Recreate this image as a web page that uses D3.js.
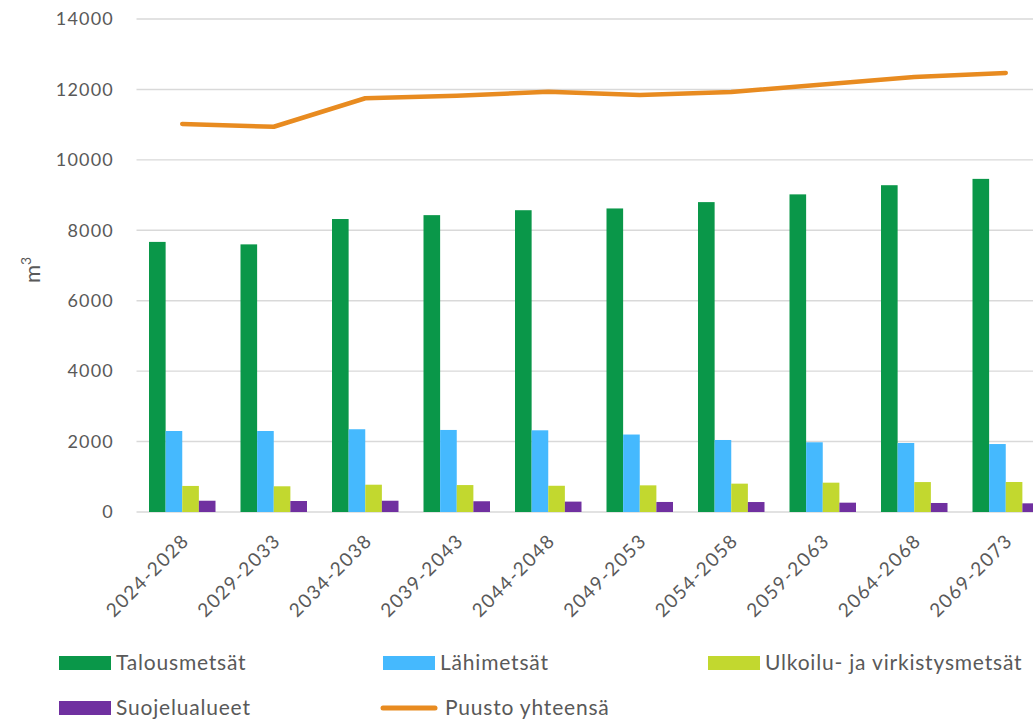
<!DOCTYPE html>
<html>
<head>
<meta charset="utf-8">
<script src="https://cdn.jsdelivr.net/npm/d3@7"></script>
<style>
  html, body { margin: 0; padding: 0; background: #fff; overflow: hidden; }
  svg { display: block; font-family: Lato, "Open Sans", sans-serif; }
</style>
</head>
<body>
<svg id="chart" width="1033" height="719"></svg>
<script>
const categories = ["2024-2028","2029-2033","2034-2038","2039-2043","2044-2048","2049-2053","2054-2058","2059-2063","2064-2068","2069-2073"];
const talousmetsat = [7670, 7600, 8320, 8430, 8570, 8620, 8800, 9020, 9280, 9460];
const lahimetsat   = [2300, 2300, 2350, 2330, 2320, 2200, 2045, 1980, 1960, 1930];
const ulkoilu      = [740, 730, 775, 765, 745, 757, 805, 833, 850, 852];
const suojelu      = [320, 312, 320, 305, 295, 285, 283, 265, 256, 246];
const puusto       = [11020, 10940, 11750, 11820, 11935, 11845, 11930, 12140, 12350, 12470];
const yTicks = [0, 2000, 4000, 6000, 8000, 10000, 12000, 14000];

const seriesNames = ["Talousmetsät", "Lähimetsät", "Ulkoilu- ja virkistysmetsät", "Suojelualueet"];
const seriesValues = [talousmetsat, lahimetsat, ulkoilu, suojelu];
const seriesColors = ["#0A9749", "#45B9FE", "#C2D82F", "#7030A0"];
const lineName = "Puusto yhteensä";
const lineColor = "#E88B20";

const svg = d3.select("#chart");
const plotLeft = 136.5, plotRight = 1051.5, plotTop = 19, plotBottom = 512;

const x = d3.scaleBand().domain(categories).range([plotLeft, plotRight]).padding(0);
const step = x.bandwidth();
const xs = d3.scaleBand().domain(seriesNames).range([step * 0.1366, step * 0.8634]).padding(0);
const y = d3.scaleLinear().domain([0, 14000]).range([plotBottom, plotTop]);

// gridlines
svg.append("g").selectAll("line").data(yTicks).join("line")
  .attr("x1", plotLeft).attr("x2", 1033)
  .attr("y1", d => y(d)).attr("y2", d => y(d))
  .attr("stroke", "#D9D9D9").attr("stroke-width", 1.4);

// y axis labels
const yAxis = d3.axisLeft(y).tickValues(yTicks).tickSize(0).tickPadding(0).tickFormat(d3.format("d"));
const gy = svg.append("g").attr("transform", `translate(114,0)`).call(yAxis);
gy.select(".domain").remove();
gy.selectAll("text")
  .attr("fill", "#595959").attr("font-size", 18).style("letter-spacing", "1.2px")
  .attr("font-family", "Lato, sans-serif");

// y title
const yt = svg.append("text")
  .attr("transform", "translate(40,270) rotate(-90)")
  .attr("text-anchor", "middle")
  .attr("fill", "#595959").attr("font-size", 22);
yt.append("tspan").text("m");
yt.append("tspan").attr("font-size", 14).attr("dy", -9).text("3");

// bars
const groups = svg.append("g").selectAll("g").data(categories).join("g")
  .attr("transform", d => `translate(${x(d)},0)`);
groups.selectAll("rect")
  .data((c, i) => seriesNames.map((s, k) => ({ s, v: seriesValues[k][i], color: seriesColors[k] })))
  .join("rect")
  .attr("x", d => xs(d.s))
  .attr("width", xs.bandwidth())
  .attr("y", d => y(d.v))
  .attr("height", d => y(0) - y(d.v))
  .attr("fill", d => d.color);

// line
const line = d3.line()
  .x((d, i) => x(categories[i]) + step / 2)
  .y(d => y(d));
svg.append("path")
  .datum(puusto)
  .attr("d", line)
  .attr("fill", "none")
  .attr("stroke", lineColor)
  .attr("stroke-width", 4.5)
  .attr("stroke-linecap", "round")
  .attr("stroke-linejoin", "round");

// x axis labels
const xAxis = d3.axisBottom(x).tickSize(0).tickPadding(0);
const gx = svg.append("g").attr("transform", `translate(0,${plotBottom})`).call(xAxis);
gx.select(".domain").remove();
gx.selectAll("text")
  .attr("fill", "#595959").attr("font-size", 19).style("letter-spacing", "1.4px")
  .attr("font-family", "Lato, sans-serif")
  .attr("text-anchor", "end")
  .attr("dy", 0)
  .attr("transform", "translate(8,30) rotate(-45)")
  .attr("y", 0);

// legend
const legendItems = [
  { name: seriesNames[0], color: seriesColors[0], type: "rect", x: 59, y: 663 },
  { name: seriesNames[1], color: seriesColors[1], type: "rect", x: 383, y: 663 },
  { name: seriesNames[2], color: seriesColors[2], type: "rect", x: 708, y: 663 },
  { name: seriesNames[3], color: seriesColors[3], type: "rect", x: 59, y: 708 },
  { name: lineName, color: lineColor, type: "line", x: 381, y: 708 }
];
const lg = svg.append("g").selectAll("g").data(legendItems).join("g")
  .attr("transform", d => `translate(${d.x},${d.y})`);
lg.filter(d => d.type === "rect").append("rect")
  .attr("x", 0).attr("y", -7).attr("width", 52).attr("height", 14)
  .attr("fill", d => d.color);
lg.filter(d => d.type === "line").append("line")
  .attr("x1", 2).attr("x2", 54).attr("y1", 0).attr("y2", 0)
  .attr("stroke", d => d.color).attr("stroke-width", 5).attr("stroke-linecap", "round");
lg.append("text")
  .attr("x", d => d.type === "line" ? 64 : 57)
  .attr("y", 7)
  .attr("fill", "#595959").attr("font-size", 21).style("letter-spacing", "0.8px")
  .text(d => d.name);
</script>
</body>
</html>
